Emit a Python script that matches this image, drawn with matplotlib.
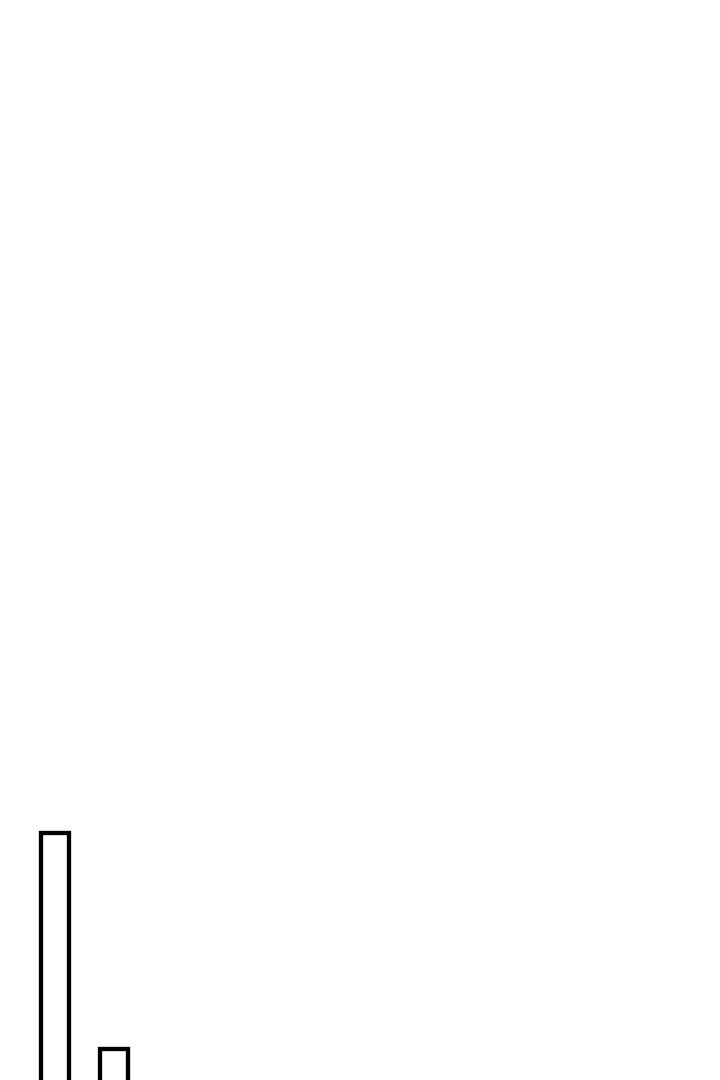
import matplotlib
matplotlib.use('Agg')
import matplotlib.pyplot as plt

# only the first two bars of the chart are visible in the crop
categories = ['A', 'B']
values = [25, 9]

fig = plt.figure(figsize=(7.2, 10.8), dpi=100)
ax = fig.add_axes([0, 0, 1, 1])

ax.bar(range(len(categories)), values, width=0.47,
       facecolor='white', edgecolor='black', linewidth=3.1)

ax.set_xlim(-0.939, 11.306)
ax.set_ylim(6.67, 86.97)
ax.axis('off')

fig.savefig('out.png', dpi=100, facecolor='white')
